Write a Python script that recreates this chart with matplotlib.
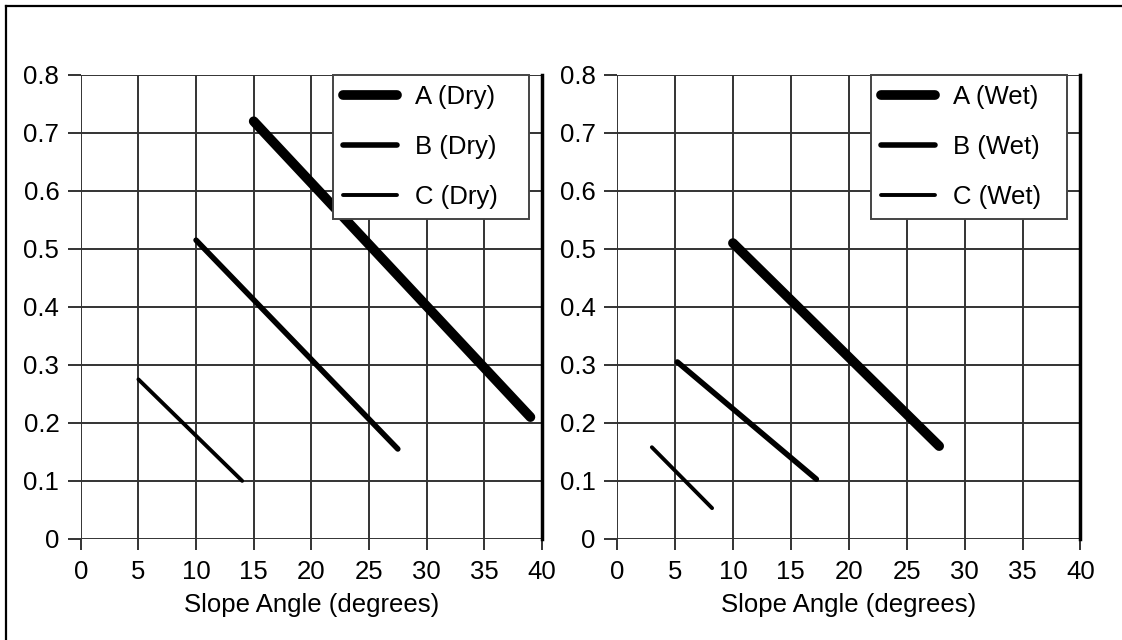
import matplotlib.pyplot as plt
from matplotlib.lines import Line2D

plt.rcParams['font.family'] = ['Liberation Sans', 'DejaVu Sans']
plt.rcParams['font.size'] = 18.5

# end points of each line (slope angle, value)
dry_labels = ["A (Dry)", "B (Dry)", "C (Dry)"]
dry_x = [[15, 39], [10, 27.5], [5, 14]]
dry_y = [[0.72, 0.21], [0.515, 0.155], [0.275, 0.10]]

wet_labels = ["A (Wet)", "B (Wet)", "C (Wet)"]
wet_x = [[10, 27.8], [5.2, 17.2], [3, 8.2]]
wet_y = [[0.51, 0.16], [0.305, 0.103], [0.158, 0.053]]

x_ticks = [0, 5, 10, 15, 20, 25, 30, 35, 40]
y_ticks = [0, 0.1, 0.2, 0.3, 0.4, 0.5, 0.6, 0.7, 0.8]
y_ticklabels = ["0", "0.1", "0.2", "0.3", "0.4", "0.5", "0.6", "0.7", "0.8"]

widths = [7, 4, 2.8]
grid_col = "#333333"

fig = plt.figure(figsize=(11.22, 6.4), dpi=100)
ax1 = fig.add_axes([0.072, 0.158, 0.411, 0.725])
ax2 = fig.add_axes([0.550, 0.158, 0.413, 0.725])

for ax, xs, ys, labels in [(ax1, dry_x, dry_y, dry_labels), (ax2, wet_x, wet_y, wet_labels)]:
    for x, y, lab, lw in zip(xs, ys, labels, widths):
        ax.plot(x, y, color="black", lw=lw, solid_capstyle="round", label=lab, zorder=3)
    ax.set_xlim(0, 40)
    ax.set_ylim(0, 0.8)
    ax.set_xticks(x_ticks)
    ax.set_yticks(y_ticks)
    ax.set_yticklabels(y_ticklabels)
    ax.grid(True, color=grid_col, lw=1.4)
    ax.set_axisbelow(True)
    ax.tick_params(axis="x", direction="out", length=8, width=1.4, color=grid_col, pad=7.5)
    ax.tick_params(axis="y", direction="out", length=9.5, width=1.4, color=grid_col, pad=6)
    for side in ["left", "top", "bottom"]:
        ax.spines[side].set_visible(False)
    ax.spines["right"].set_linewidth(2.5)
    ax.set_xlabel("Slope Angle (degrees)", labelpad=6)
    leg = ax.legend(loc="upper left", bbox_to_anchor=(0.547, 0, 0.424, 1.0), mode="expand",
                    borderaxespad=0, fancybox=False, framealpha=1, edgecolor="#444444",
                    handlelength=2.1, handletextpad=0.7, labelspacing=1.0,
                    borderpad=0.4)
    leg.get_frame().set_linewidth(1.4)

# frame lines around the picture
fig.add_artist(Line2D([0.005, 0.005], [0, 0.99], transform=fig.transFigure, color="black", lw=1.6))
fig.add_artist(Line2D([0.005, 1.0], [0.99, 0.99], transform=fig.transFigure, color="black", lw=1.6))

fig.savefig("out.png", dpi=100)
